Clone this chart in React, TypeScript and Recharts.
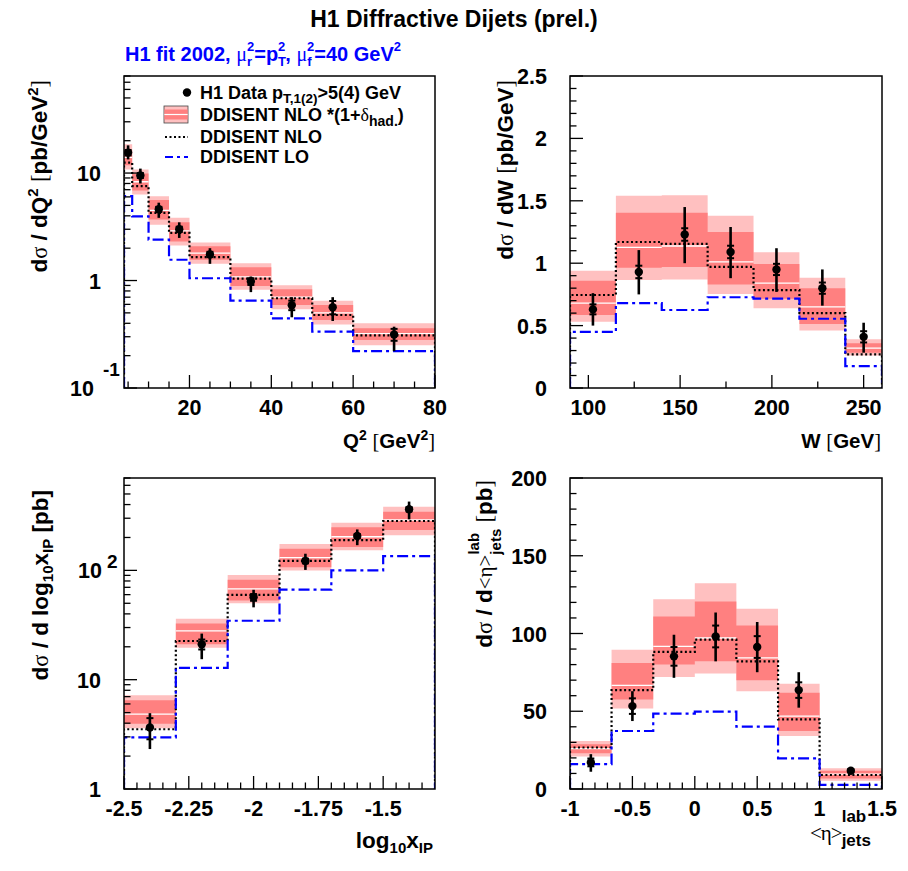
import React from 'react'
import { Area, ComposedChart, ErrorBar, Line, Scatter, XAxis, YAxis } from 'recharts'

const SANS = '"Liberation Sans", Arial, Helvetica, sans-serif'
const SYM = '"Liberation Serif", "DejaVu Serif", serif'
const LIGHT = '#ffc0c0'
const DARK = '#ff8080'
const BLUE = '#0000ff'

// dσ/dQ²
const Q2_EDGES = [4, 6, 10, 15, 20, 30, 40, 50, 60, 80]
const Q2_X = [5, 8, 12.5, 17.5, 25, 35, 45, 55, 70]
const Q2_DATA = [15.5, 9.5, 4.6, 3.0, 1.75, 0.98, 0.59, 0.565, 0.315]
const Q2_ERR_HI = [18.1, 11.0, 5.3, 3.48, 2.0, 1.09, 0.7, 0.7, 0.372]
const Q2_ERR_LO = [13.4, 8.0, 3.83, 2.49, 1.43, 0.78, 0.455, 0.42, 0.22]
const Q2_STAT = [0.9, 0.5, 0.25, 0.17, 0.1, 0.07, 0.06, 0.08, 0.04]
const Q2_LIGHT_HI = [18.5, 10.8, 6.1, 3.83, 2.26, 1.45, 0.906, 0.65, 0.4]
const Q2_LIGHT_LO = [10.8, 6.3, 3.3, 2.12, 1.43, 0.82, 0.54, 0.39, 0.25]
const Q2_DARK_HI = [16.5, 9.9, 5.6, 3.48, 2.08, 1.33, 0.83, 0.593, 0.359]
const Q2_DARK_LO = [11.8, 6.9, 3.7, 2.31, 1.56, 0.89, 0.593, 0.43, 0.279]
const Q2_CENTRAL = [14, 8.3, 4.5, 2.9, 1.8, 1.08, 0.7, 0.5, 0.32]
const Q2_NLO = [12.5, 7.56, 4.26, 2.77, 1.65, 1.04, 0.684, 0.478, 0.309]
const Q2_LO = [6.1, 3.96, 2.4, 1.56, 1.05, 0.65, 0.445, 0.334, 0.22]

// dσ/dW
const W_EDGES = [90, 115, 140, 165, 190, 215, 240, 260]
const W_X = [102.5, 127.5, 152.5, 177.5, 202.5, 227.5, 250]
const W_DATA = [0.63, 0.93, 1.23, 1.09, 0.95, 0.8, 0.41]
const W_ERR_HI = [0.76, 1.105, 1.45, 1.29, 1.12, 0.95, 0.523]
const W_ERR_LO = [0.5, 0.75, 1.0, 0.88, 0.77, 0.66, 0.283]
const W_STAT = [0.04, 0.05, 0.05, 0.05, 0.045, 0.045, 0.045]
const W_LIGHT_HI = [0.94, 1.54, 1.545, 1.38, 1.087, 0.884, 0.39]
const W_LIGHT_LO = [0.53, 0.865, 0.87, 0.753, 0.64, 0.46, 0.26]
const W_DARK_HI = [0.86, 1.405, 1.405, 1.25, 0.994, 0.8, 0.358]
const W_DARK_LO = [0.585, 0.964, 0.97, 0.83, 0.716, 0.513, 0.283]
const W_CENTRAL = [0.68, 1.127, 1.138, 1.01, 0.84, 0.65, 0.32]
const W_NLO = [0.745, 1.17, 1.155, 0.97, 0.785, 0.6, 0.27]
const W_LO = [0.45, 0.68, 0.625, 0.727, 0.716, 0.555, 0.176]

// dσ/dlog10 xIP
const XP_EDGES = [-2.5, -2.3, -2.1, -1.9, -1.7, -1.5, -1.3]
const XP_X = [-2.4, -2.2, -2.0, -1.8, -1.6, -1.4]
const XP_DATA = [3.65, 21.1, 56.7, 122, 206, 362]
const XP_ERR_HI = [4.94, 26.4, 66.4, 142, 237, 426]
const XP_ERR_LO = [2.32, 15.4, 45.9, 101, 170, 293]
const XP_STAT = [0.8, 2.2, 4, 6, 9, 15]
const XP_LIGHT_HI = [7.2, 36.1, 90.5, 174, 273, 383]
const XP_LIGHT_LO = [3.6, 19.6, 50, 100, 153, 210]
const XP_DARK_HI = [6.5, 32.6, 82, 158, 248, 344]
const XP_DARK_LO = [3.95, 21.1, 53, 107, 164, 234]
const XP_CENTRAL = [4.84, 28, 67.8, 131, 203, 289]
const XP_NLO = [3.52, 22.6, 59.7, 122, 189, 283]
const XP_LO = [2.97, 12.8, 34.6, 66.8, 100, 135]

// dσ/d<η>
const ETA_EDGES = [-1, -0.667, -0.333, 0, 0.333, 0.667, 1, 1.5]
const ETA_X = [-0.833, -0.5, -0.167, 0.167, 0.5, 0.833, 1.25]
const ETA_DATA = [17.1, 53.3, 85.3, 98.1, 91.3, 63.6, 11.7]
const ETA_ERR_HI = [22.4, 62.9, 99.2, 113.5, 107.4, 75.1, 13.9]
const ETA_ERR_LO = [11.1, 43.7, 71.5, 82.1, 75.1, 52.3, 9.6]
const ETA_STAT = [2.5, 5, 6, 7, 7, 5, 1]
const ETA_LIGHT_HI = [30.9, 89.6, 122.1, 132.3, 115.9, 67.7, 13.4]
const ETA_LIGHT_LO = [20.9, 51.7, 72.1, 74.3, 62.9, 34.1, 5.3]
const ETA_DARK_HI = [28.8, 81.1, 110.9, 120.6, 105.2, 61.9, 11.7]
const ETA_DARK_LO = [23.0, 57.6, 80, 82.1, 70, 37.3, 6.8]
const ETA_CENTRAL = [26, 66.6, 91.7, 97.1, 84.3, 46.9, 9.6]
const ETA_NLO = [26.7, 63.6, 88.2, 96.0, 82.1, 44.8, 9.0]
const ETA_LO = [16.0, 37.3, 48.5, 49.7, 40.1, 19.7, 2.6]

// tick positions
const r3 = (v: number) => Math.round(v * 1000) / 1000
const range = (a: number, b: number, s: number) => {
  const out: number[] = []
  for (let v = a; v <= b + 1e-9; v += s) out.push(r3(v))
  return out
}
const logTicks = (lo: number, hi: number) => {
  const out: number[] = []
  for (let d = lo; d < hi * 10; d *= 10)
    for (let k = 1; k < 10; k++) {
      const v = r3(k * d)
      if (v >= lo - 1e-9 && v <= hi + 1e-9) out.push(v)
    }
  return out
}

const stepRows = (edges: number[], vals: number[]) => [
  ...vals.map((y, i) => ({ x: edges[i], y })),
  { x: edges[edges.length - 1], y: vals[vals.length - 1] },
]
const dropRows = (edges: number[], vals: number[], floor: number) => [
  { x: edges[0], y: floor },
  ...stepRows(edges, vals),
  { x: edges[edges.length - 1], y: floor },
]
const bandRows = (edges: number[], lo: number[], hi: number[]) => [
  ...lo.map((l, i) => ({ x: edges[i], r: [l, hi[i]] })),
  { x: edges[edges.length - 1], r: [lo[lo.length - 1], hi[hi.length - 1]] },
]
const segRows = (edges: number[], vals: number[]) =>
  vals.flatMap((y, i) => [
    { x: edges[i], y },
    { x: edges[i + 1], y },
    { x: edges[i + 1], y: null },
  ])
const pointRows = (xs: number[], ys: number[], lo: number[], hi: number[], st: number[]) =>
  xs.map((x, i) => ({ x, y: ys[i], err: [ys[i] - lo[i], hi[i] - ys[i]], stat: [st[i], st[i]] }))

const near = (list: number[], v: number) => list.some((m) => Math.abs(m - v) < 1e-6)

type LabelFn = (x: number, y: number, v: number) => React.ReactNode

const tickText = { fontFamily: SANS, fontWeight: 'bold' as const, fontSize: 21.5, fill: '#000' }

const plainY: LabelFn = (x, y, v) => (
  <text x={x - 23} y={y + 8} textAnchor="end" {...tickText}>
    {String(v)}
  </text>
)
const plainX: LabelFn = (x, y, v) => (
  <text x={x} y={y + 27} textAnchor="middle" {...tickText}>
    {String(v)}
  </text>
)
const logY: LabelFn = (x, y, v) => {
  if (v === 0.1)
    return (
      <g>
        <text x={x - 30} y={y + 8} textAnchor="end" {...tickText}>10</text>
        <text x={x - 21} y={y - 12} {...tickText} fontSize={19}>-1</text>
      </g>
    )
  if (v === 100)
    return (
      <g>
        <text x={x - 22} y={y + 8} textAnchor="end" {...tickText}>10</text>
        <text x={x - 17} y={y - 2} {...tickText} fontSize={19}>2</text>
      </g>
    )
  return plainY(x, y, v)
}

const makeYTick = (majors: number[], label: LabelFn) => (p: any) => {
  const v = p.payload.value
  const major = near(majors, v)
  return (
    <g>
      <line x1={p.x} y1={p.y} x2={p.x + (major ? 13 : 6.5)} y2={p.y} stroke="#000" strokeWidth={1.3} />
      {major ? label(p.x, p.y, v) : null}
    </g>
  )
}
const makeXTick = (majors: number[], label: LabelFn) => (p: any) => {
  const v = p.payload.value
  const major = near(majors, v)
  return (
    <g>
      <line x1={p.x} y1={p.y} x2={p.x} y2={p.y - (major ? 13 : 6.5)} stroke="#000" strokeWidth={1.3} />
      {major ? label(p.x, p.y, v) : null}
    </g>
  )
}

const Dot = (p: any) => <circle cx={p.cx} cy={p.cy} r={4.2} fill="#000" />

interface PanelProps {
  fx: number
  fy: number
  fw: number
  fh: number
  xDomain: [number, number]
  xTicks: number[]
  xMajors: number[]
  xLabel?: LabelFn
  yDomain: [number, number]
  yTicks: number[]
  yMajors: number[]
  yLog?: boolean
  yLabel?: LabelFn
  edges: number[]
  lightLo: number[]
  lightHi: number[]
  darkLo: number[]
  darkHi: number[]
  central: number[]
  nlo: number[]
  lo: number[]
  points: ReturnType<typeof pointRows>
}

function Panel(p: PanelProps) {
  const W = p.fw + 140
  const H = p.fh + 70
  const floor = p.yDomain[0]
  return (
    <div style={{ position: 'absolute', left: p.fx - 100, top: p.fy - 10, width: W, height: H }}>
      <ComposedChart width={W} height={H} margin={{ top: 10, right: 40, left: 0, bottom: 0 }}>
        <XAxis
          dataKey="x"
          type="number"
          domain={p.xDomain}
          allowDataOverflow
          ticks={p.xTicks}
          interval={0}
          tickSize={0}
          tickMargin={0}
          axisLine={false}
          tickLine={false}
          height={60}
          tick={makeXTick(p.xMajors, p.xLabel ?? plainX)}
        />
        <YAxis
          type="number"
          scale={p.yLog ? 'log' : 'linear'}
          domain={p.yDomain}
          allowDataOverflow
          ticks={p.yTicks}
          interval={0}
          tickSize={0}
          tickMargin={0}
          axisLine={false}
          tickLine={false}
          width={100}
          tick={makeYTick(p.yMajors, p.yLabel ?? plainY)}
        />
        <Area
          data={bandRows(p.edges, p.lightLo, p.lightHi)}
          dataKey="r"
          type="stepAfter"
          stroke="none"
          fill={LIGHT}
          fillOpacity={1}
          isAnimationActive={false}
        />
        <Area
          data={bandRows(p.edges, p.darkLo, p.darkHi)}
          dataKey="r"
          type="stepAfter"
          stroke="none"
          fill={DARK}
          fillOpacity={1}
          isAnimationActive={false}
        />
        <Line
          data={segRows(p.edges, p.central)}
          dataKey="y"
          type="linear"
          stroke="#fff"
          strokeWidth={1.3}
          dot={false}
          connectNulls={false}
          isAnimationActive={false}
        />
        <Line
          data={dropRows(p.edges, p.nlo, floor)}
          dataKey="y"
          type="stepAfter"
          stroke="#000"
          strokeWidth={2.2}
          strokeDasharray="2 2.5"
          dot={false}
          isAnimationActive={false}
        />
        <Line
          data={dropRows(p.edges, p.lo, floor)}
          dataKey="y"
          type="stepAfter"
          stroke={BLUE}
          strokeWidth={2.2}
          strokeDasharray="11 4 3 4"
          dot={false}
          isAnimationActive={false}
        />
        <Scatter data={p.points} dataKey="y" shape={Dot} isAnimationActive={false}>
          <ErrorBar dataKey="err" direction="y" width={0} strokeWidth={2.6} stroke="#000" />
          <ErrorBar dataKey="stat" direction="y" width={3.5} strokeWidth={2} stroke="#000" />
        </Scatter>
      </ComposedChart>
    </div>
  )
}

const FRAMES = [
  { x: 124, y: 76, w: 311, h: 312 },
  { x: 570, y: 76, w: 312, h: 312 },
  { x: 124, y: 478, w: 311, h: 311 },
  { x: 570, y: 478, w: 312, h: 311 },
]

const title = { fontFamily: SANS, fontWeight: 'bold' as const, fill: '#000' }
const sym = { fontFamily: SYM, fontWeight: 'normal' as const }

function Overlay() {
  return (
    <svg width={908} height={871} style={{ position: 'absolute', left: 0, top: 0, pointerEvents: 'none' }}>
      {FRAMES.map((f, i) => (
        <rect key={i} x={f.x} y={f.y} width={f.w} height={f.h} fill="none" stroke="#000" strokeWidth={1.5} />
      ))}

      <text x={454} y={27} textAnchor="middle" fontSize={23} {...title}>
        H1 Diffractive Dijets (prel.)
      </text>

      <text x={125} y={61} fontSize={20} {...title} fill={BLUE}>
        H1 fit 2002,{' '}
        <tspan {...sym}>μ</tspan>
        <tspan fontSize={13} dy={5}>r</tspan>
        <tspan fontSize={13} dx={-5} dy={-15}>2</tspan>
        <tspan dy={10}>=p</tspan>
        <tspan fontSize={13} dy={5}>T</tspan>
        <tspan fontSize={13} dx={-8} dy={-15}>2</tspan>
        <tspan dy={10}>, </tspan>
        <tspan {...sym}>μ</tspan>
        <tspan fontSize={13} dy={5}>f</tspan>
        <tspan fontSize={13} dx={-4.5} dy={-15}>2</tspan>
        <tspan dy={10}>=40 GeV</tspan>
        <tspan fontSize={13} dy={-10}>2</tspan>
      </text>

      {/* legend */}
      <circle cx={187} cy={92.5} r={4.2} fill="#000" />
      <text x={200} y={99} fontSize={18} {...title}>
        H1 Data p<tspan fontSize={13.5} dy={4}>T,1(2)</tspan>
        <tspan dy={-4}>{'>5(4) GeV'}</tspan>
      </text>
      <rect x={164} y={106} width={24} height={17} fill={LIGHT} stroke="#444" strokeWidth={0.8} />
      <rect x={164.4} y={109.5} width={23.2} height={10} fill={DARK} />
      <line x1={164.4} y1={114.5} x2={187.6} y2={114.5} stroke="#fff" strokeWidth={1.2} />
      <text x={200} y={121} fontSize={18} {...title}>
        DDISENT NLO *(1+<tspan {...sym}>δ</tspan>
        <tspan fontSize={14} dy={5}>had.</tspan>
        <tspan dy={-5}>)</tspan>
      </text>
      <line x1={165} y1={137} x2={188} y2={137} stroke="#000" strokeWidth={2.2} strokeDasharray="2 2.5" />
      <text x={200} y={143} fontSize={18} {...title}>
        DDISENT NLO
      </text>
      <line x1={165} y1={157} x2={188} y2={157} stroke={BLUE} strokeWidth={2.2} strokeDasharray="8 4 3 4" />
      <text x={200} y={163} fontSize={18} {...title}>
        DDISENT LO
      </text>

      {/* axis titles */}
      <text transform="translate(47,80) rotate(-90)" textAnchor="end" fontSize={22.5} {...title}>
        d<tspan {...sym}>σ</tspan> / dQ<tspan fontSize={15} dy={-9}>2</tspan>
        <tspan dy={9}> </tspan>
        <tspan {...sym}>[</tspan>pb/GeV<tspan fontSize={15} dy={-9}>2</tspan>
        <tspan dy={9} {...sym}>]</tspan>
      </text>
      <text x={435} y={448} textAnchor="end" fontSize={20.5} {...title}>
        Q<tspan fontSize={14} dy={-8}>2</tspan>
        <tspan dy={8}> </tspan>
        <tspan {...sym}>[</tspan>GeV<tspan fontSize={14} dy={-8}>2</tspan>
        <tspan dy={8} {...sym}>]</tspan>
      </text>

      <text transform="translate(513,80) rotate(-90)" textAnchor="end" fontSize={22.5} {...title}>
        d<tspan {...sym}>σ</tspan> / dW <tspan {...sym}>[</tspan>pb/GeV<tspan {...sym}>]</tspan>
      </text>
      <text x={881} y={448} textAnchor="end" fontSize={20.5} {...title}>
        W <tspan {...sym}>[</tspan>GeV<tspan {...sym}>]</tspan>
      </text>

      <text transform="translate(48,490) rotate(-90)" textAnchor="end" fontSize={22.5} {...title}>
        d<tspan {...sym}>σ</tspan> / d log<tspan fontSize={15} dy={5}>10</tspan>
        <tspan dy={-5}>x</tspan>
        <tspan fontSize={15} dy={5}>IP</tspan>
        <tspan dy={-5}> [pb]</tspan>
      </text>
      <text x={433} y={848} textAnchor="end" fontSize={22.5} {...title}>
        log<tspan fontSize={15} dy={5}>10</tspan>
        <tspan dy={-5}>x</tspan>
        <tspan fontSize={15} dy={5}>IP</tspan>
      </text>

      <text transform="translate(492,480) rotate(-90)" textAnchor="end" fontSize={22.5} {...title}>
        d<tspan {...sym}>σ</tspan> / d<tspan {...sym} fontSize={21}>{'<η>'}</tspan>
        <tspan fontSize={15} dy={-13}>lab</tspan>
        <tspan fontSize={15} dx={-21.7} dy={22}>jets</tspan>
        <tspan dy={-9}> </tspan>
        <tspan {...sym}>[</tspan>pb<tspan {...sym}>]</tspan>
      </text>
      <text x={810} y={840} fontSize={22} {...title}>
        <tspan {...sym} fontSize={21} letterSpacing={-1}>{'<η>'}</tspan>
        <tspan fontSize={17} dy={-18}>lab</tspan>
        <tspan fontSize={17} dx={-24.6} dy={24}>jets</tspan>
      </text>
    </svg>
  )
}

export default function App() {
  const f = FRAMES
  return (
    <div style={{ position: 'absolute', left: 0, top: 0, width: 908, height: 871, background: '#fff', fontFamily: SANS }}>
      <Panel
        fx={f[0].x}
        fy={f[0].y}
        fw={f[0].w}
        fh={f[0].h}
        xDomain={[4, 80]}
        xTicks={range(5, 80, 5)}
        xMajors={[20, 40, 60, 80]}
        yDomain={[0.1, 80]}
        yTicks={logTicks(0.1, 80)}
        yMajors={[0.1, 1, 10]}
        yLog
        yLabel={logY}
        edges={Q2_EDGES}
        lightLo={Q2_LIGHT_LO}
        lightHi={Q2_LIGHT_HI}
        darkLo={Q2_DARK_LO}
        darkHi={Q2_DARK_HI}
        central={Q2_CENTRAL}
        nlo={Q2_NLO}
        lo={Q2_LO}
        points={pointRows(Q2_X, Q2_DATA, Q2_ERR_LO, Q2_ERR_HI, Q2_STAT)}
      />
      <Panel
        fx={f[1].x}
        fy={f[1].y}
        fw={f[1].w}
        fh={f[1].h}
        xDomain={[90, 260]}
        xTicks={[100, 125, 150, 175, 200, 225, 250]}
        xMajors={[100, 150, 200, 250]}
        yDomain={[0, 2.5]}
        yTicks={range(0, 2.5, 0.1)}
        yMajors={[0, 0.5, 1, 1.5, 2, 2.5]}
        edges={W_EDGES}
        lightLo={W_LIGHT_LO}
        lightHi={W_LIGHT_HI}
        darkLo={W_DARK_LO}
        darkHi={W_DARK_HI}
        central={W_CENTRAL}
        nlo={W_NLO}
        lo={W_LO}
        points={pointRows(W_X, W_DATA, W_ERR_LO, W_ERR_HI, W_STAT)}
      />
      <Panel
        fx={f[2].x}
        fy={f[2].y}
        fw={f[2].w}
        fh={f[2].h}
        xDomain={[-2.5, -1.3]}
        xTicks={range(-2.5, -1.35, 0.05)}
        xMajors={[-2.5, -2.25, -2, -1.75, -1.5]}
        yDomain={[1, 700]}
        yTicks={logTicks(1, 700)}
        yMajors={[1, 10, 100]}
        yLog
        yLabel={logY}
        edges={XP_EDGES}
        lightLo={XP_LIGHT_LO}
        lightHi={XP_LIGHT_HI}
        darkLo={XP_DARK_LO}
        darkHi={XP_DARK_HI}
        central={XP_CENTRAL}
        nlo={XP_NLO}
        lo={XP_LO}
        points={pointRows(XP_X, XP_DATA, XP_ERR_LO, XP_ERR_HI, XP_STAT)}
      />
      <Panel
        fx={f[3].x}
        fy={f[3].y}
        fw={f[3].w}
        fh={f[3].h}
        xDomain={[-1, 1.5]}
        xTicks={range(-1, 1.5, 0.1)}
        xMajors={[-1, -0.5, 0, 0.5, 1, 1.5]}
        yDomain={[0, 200]}
        yTicks={range(0, 200, 10)}
        yMajors={[0, 50, 100, 150, 200]}
        edges={ETA_EDGES}
        lightLo={ETA_LIGHT_LO}
        lightHi={ETA_LIGHT_HI}
        darkLo={ETA_DARK_LO}
        darkHi={ETA_DARK_HI}
        central={ETA_CENTRAL}
        nlo={ETA_NLO}
        lo={ETA_LO}
        points={pointRows(ETA_X, ETA_DATA, ETA_ERR_LO, ETA_ERR_HI, ETA_STAT)}
      />
      <Overlay />
    </div>
  )
}
